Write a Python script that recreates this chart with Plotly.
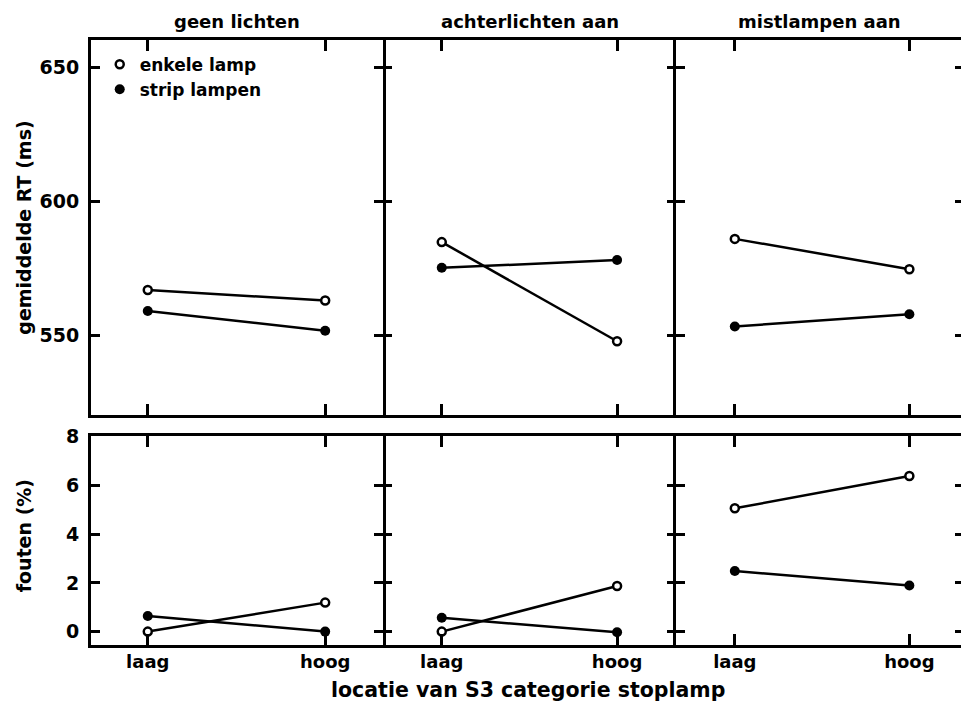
import plotly.graph_objects as go

# ---- data ----
conditions = ["geen lichten", "achterlichten aan", "mistlampen aan"]
locations = ["laag", "hoog"]
series_names = ["enkele lamp", "strip lampen"]

rt_enkele = [[567.0, 563.1], [584.9, 547.9], [586.1, 574.8]]
rt_strip = [[559.2, 551.8], [575.3, 578.2], [553.4, 558.0]]
err_enkele = [[0.0, 1.19], [0.0, 1.87], [5.06, 6.39]]
err_strip = [[0.64, 0.0], [0.57, -0.03], [2.49, 1.89]]

rt_ticks = [550, 600, 650]
err_ticks = [0, 2, 4, 6, 8]

y_titles = ["gemiddelde RT (ms)", "fouten (%)"]
x_title = "locatie van S3 categorie stoplamp"

FONT = "DejaVu Sans"
BOLD = "bold"

marker_open = dict(symbol="circle", size=8, color="white",
                   line=dict(color="black", width=2.5))
marker_filled = dict(symbol="circle", size=10, color="black",
                     line=dict(color="black", width=0))

fig = go.Figure()


def axname(prefix, idx):
    return prefix if idx == 1 else f"{prefix}{idx}"


for i in range(3):
    top = i + 1
    bot = i + 4
    for vals, mk in ((rt_enkele[i], marker_open), (rt_strip[i], marker_filled)):
        fig.add_trace(go.Scatter(x=locations, y=vals, mode="lines+markers",
                                 xaxis=axname("x", top), yaxis=axname("y", top),
                                 line=dict(color="black", width=2.5),
                                 marker=mk, showlegend=False))
    for vals, mk in ((err_enkele[i], marker_open), (err_strip[i], marker_filled)):
        fig.add_trace(go.Scatter(x=locations, y=vals, mode="lines+markers",
                                 xaxis=axname("x", bot), yaxis=axname("y", bot),
                                 line=dict(color="black", width=2.5),
                                 marker=mk, showlegend=False))

# legend-only traces (markers only, as in the reference)
for name, mk in zip(series_names, (marker_open, marker_filled)):
    fig.add_trace(go.Scatter(x=[None], y=[None], mode="markers", name=name,
                             marker=mk, xaxis="x", yaxis="y"))

# the page body adds an 8px offset; size/margins compensate so the page
# fits the window and the plot lands where the reference has it
W, H = 961, 701
ML, MR, MT, MB = 83, 2, 32, 64
xdoms = [[0.0, 0.3345], [0.3345, 0.6701], [0.6701, 1.0]]
xranges = [[-0.320, 1.326], [-0.335, 1.336], [-0.337, 1.313]]
ydom_top = [0.3802, 1.0]
ydom_bot = [0.0, 0.3455]

common = dict(linecolor="black", linewidth=3, mirror="ticks",
              ticks="inside", tickcolor="black", tickwidth=2.5,
              showgrid=False, zeroline=False, fixedrange=True)
tickfont = dict(family=FONT, size=19, color="black", weight=BOLD)
xtickfont = dict(family=FONT, size=18, color="black", weight=BOLD)
titlefont = dict(family=FONT, size=19, color="black", weight=BOLD)

layout = {}
for i in range(3):
    top = i + 1
    bot = i + 4
    yline = (i != 1)  # middle column relies on its neighbours' lines so dividers stay single
    layout[axname("xaxis", top)] = dict(common, showline=True, domain=xdoms[i],
                                        anchor=axname("y", top),
                                        type="category", range=xranges[i],
                                        ticklen=11, showticklabels=False)
    layout[axname("xaxis", bot)] = dict(common, showline=True, domain=xdoms[i],
                                        anchor=axname("y", bot),
                                        type="category", range=xranges[i],
                                        ticklen=11, showticklabels=True,
                                        tickfont=xtickfont, ticklabelstandoff=-2)
    layout[axname("yaxis", top)] = dict(common, showline=yline, domain=ydom_top,
                                        anchor=axname("x", top),
                                        range=[520.4, 660.3], tickvals=rt_ticks,
                                        ticklen=9, showticklabels=(i == 0),
                                        tickfont=tickfont, ticklabelstandoff=5)
    layout[axname("yaxis", bot)] = dict(common, showline=yline, domain=ydom_bot,
                                        anchor=axname("x", bot),
                                        range=[-0.55, 8.03], tickvals=err_ticks,
                                        ticklen=9, showticklabels=(i == 0),
                                        tickfont=tickfont, ticklabelstandoff=5)

annotations = []
for i, cond in enumerate(conditions):
    annotations.append(dict(text=cond, xref="paper", yref="paper",
                            x=(xdoms[i][0] + xdoms[i][1]) / 2, y=1.0298,
                            xanchor="center", yanchor="middle", showarrow=False,
                            font=dict(family=FONT, size=18, color="black", weight=BOLD)))
annotations.append(dict(text=x_title, xref="paper", yref="paper",
                        x=0.5, y=-0.0744, xanchor="center", yanchor="middle",
                        showarrow=False,
                        font=dict(family=FONT, size=20.5, color="black", weight=BOLD)))
for txt, yc in zip(y_titles, [(ydom_top[0] + ydom_top[1]) / 2, 0.180]):
    annotations.append(dict(text=txt, xref="paper", yref="paper",
                            x=-0.0765, y=yc, xanchor="center", yanchor="middle",
                            textangle=-90, showarrow=False, font=titlefont))

fig.update_layout(
    width=W, height=H,
    margin=dict(l=ML, r=MR, t=MT, b=MB, pad=0),
    paper_bgcolor="white", plot_bgcolor="white",
    font=dict(family=FONT, color="black", weight=BOLD),
    showlegend=True,
    legend=dict(x=0.010, y=0.989, xanchor="left", yanchor="top",
                bgcolor="rgba(0,0,0,0)", borderwidth=0,
                font=dict(family=FONT, size=17, color="black", weight=BOLD),
                tracegroupgap=0, itemwidth=30),
    annotations=annotations,
    **layout,
)

fig.write_html("out.html")
